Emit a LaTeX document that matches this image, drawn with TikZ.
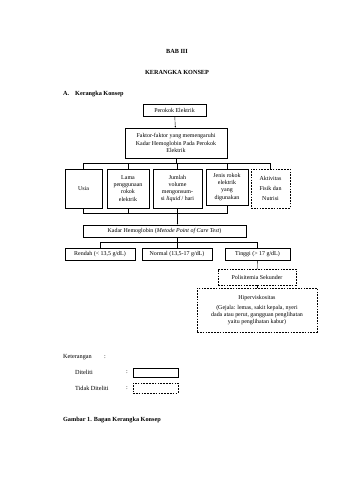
\documentclass[tikz,border=0pt]{standalone}
\usepackage{fontspec}
\setmainfont{Liberation Serif}
\usetikzlibrary{positioning,arrows.meta}

\begin{document}
\begin{tikzpicture}[x=0.62mm,y=-0.62mm,
  box/.style={draw,line width=0.8pt,align=center,inner sep=1pt,font=\fontsize{10.5}{12.5}\selectfont},
  dbox/.style={box,densely dashed},
  wh/.style 2 args={minimum width=#1*0.62mm,minimum height=#2*0.62mm},
  link/.style={line width=0.7pt},
  arr/.style={link,-{Latex[length=3pt,width=2.5pt]}},
  txt/.style={font=\fontsize{11}{13}\selectfont,inner sep=0pt}]
  \useasboundingbox (0,0) rectangle (339,480);

  \node[font=\fontsize{11}{13}\bfseries] (bab) at (177,51) {BAB III};
  \node[font=\fontsize{11}{13}\bfseries] (judul) at (177,72) {KERANGKA KONSEP};
  \node[txt,font=\fontsize{11}{13}\bfseries,anchor=west] (sub) at (63,94) {\makebox[7.5mm][l]{A.}Kerangka Konsep};

  \node[box,wh={63}{12}] (perokok) at (174.5,110) {Perokok Elektrik};
  \node[box,wh={102}{30}] (faktor) at (176,143) {Faktor-faktor yang memengaruhi\\Kadar Hemoglobin Pada Perokok\\Elektrik};

  \node[box,wh={37}{39}] (usia) at (83.5,188.5) {Usia};
  \node[box,wh={42}{39}] (lama) at (128,188.5) {Lama\\penggunaan\\rokok\\elektrik};
  \node[box,wh={49}{39}] (jumlah) at (177.5,188.5) {Jumlah\\volume\\mengonsum-\\si \textit{liquid} / hari};
  \node[box,wh={42}{36}] (jenis) at (227,187) {Jenis rokok\\elektrik\\yang\\digunakan};
  \node[dbox,wh={39}{39},font=\fontsize{10.5}{18}\selectfont] (aktivitas) at (270.5,188.5) {Aktivitas\\Fisik dan\\Nutrisi};

  \node[box,wh={163}{12}] (kadar) at (164.5,231) {Kadar Hemoglobin (\textit{Metode Point of Care Test})};
  \node[box,wh={70}{12}] (rendah) at (100,254) {Rendah (< 13,5 g/dL)};
  \node[box,wh={70}{12}] (normal) at (177,254) {Normal (13,5-17 g/dL)};
  \node[box,wh={65}{12}] (tinggi) at (257.5,254) {Tinggi (> 17 g/dL)};
  \node[dbox,wh={78}{16}] (polisitemia) at (257,277) {Polisitemia Sekunder};
  \node[dbox,wh={120}{44}] (hiper) at (257,310) {Hiperviskositas\\[5pt](Gejala: lemas, sakit kepala, nyeri\\dada atau perut, gangguan penglihatan\\yaitu penglihatan kabur)};

  \coordinate (topbar) at (0,163);
  \coordinate (botbar) at (0,213);
  \coordinate (resbar) at (0,242);

  \draw[arr] (perokok) -- (faktor);
  \draw[link] (faktor.south) -- (faktor.south |- topbar);
  \draw[link] (usia.north) |- (aktivitas.north |- topbar) -- (aktivitas.north);
  \foreach \n in {lama,jumlah,jenis}{\draw[link] (\n.north) -- (\n.north |- topbar);}
  \draw[link] (usia.south) |- (jenis.south |- botbar) -- (jenis.south);
  \foreach \n in {lama,jumlah}{\draw[link] (\n.south) -- (\n.south |- botbar);}
  \draw[arr] (jumlah.south |- botbar) -- (jumlah.south |- kadar.north);
  \draw[link] (normal.north |- kadar.south) -- (normal.north);
  \draw[link] (rendah.north) |- (tinggi.north |- resbar) -- (tinggi.north);
  \draw[link] (tinggi) -- (polisitemia);
  \draw[link] (polisitemia) -- (hiper);

  \node[txt,anchor=west] (ket) at (63,357) {Keterangan};
  \node[txt] (ketcolon) at (105,357) {:};
  \node[txt,anchor=west] (diteliti) at (75,372.5) {Diteliti};
  \node[txt] (dcolon) at (127,372.5) {:};
  \node[box,wh={45}{9}] (ditelitibox) at (155.5,372.5) {};
  \node[txt,anchor=west] (tidak) at (75,388) {Tidak Diteliti};
  \node[txt] (tcolon) at (127,388) {:};
  \node[dbox,wh={45}{10}] (tidakbox) at (155.5,388) {};

  \node[txt,font=\fontsize{11}{13}\bfseries,anchor=west] (gambar) at (63,420) {Gambar 1. Bagan Kerangka Konsep};
\end{tikzpicture}
\end{document}
